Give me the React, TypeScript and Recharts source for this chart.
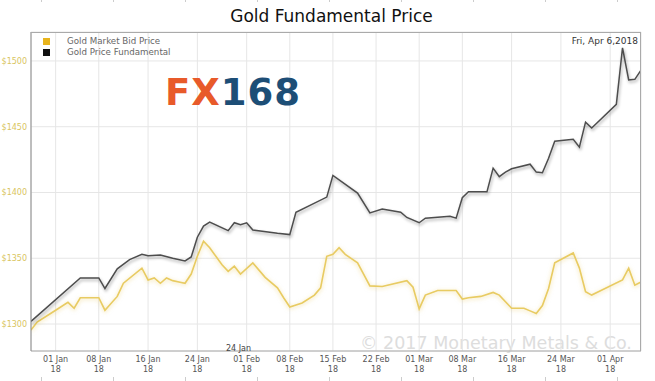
import React from "react";
import {
  LineChart,
  Line,
  XAxis,
  YAxis,
  CartesianGrid,
} from "recharts";

// days counted from 01 Jan 2018 (day 0)
const tickDays = [0, 7, 15, 23, 31, 38, 45, 52, 59, 66, 74, 82, 90];
const tickLabels = [
  "01 Jan", "08 Jan", "16 Jan", "24 Jan", "01 Feb", "08 Feb", "15 Feb",
  "22 Feb", "01 Mar", "08 Mar", "16 Mar", "24 Mar", "01 Apr",
];
const tickYear = "18";
const yTicks = [1300, 1350, 1400, 1450, 1500];

const fundamentalDays = [
  -4, 4, 7, 8, 10, 12, 14, 15, 17, 19, 21, 22, 23, 24, 25, 28, 29, 30, 31, 32,
  36, 38, 39, 44, 45, 49, 51, 53, 56, 57, 59, 60, 64, 65, 66, 67, 70, 71, 72,
  73, 74, 77, 78, 79, 80, 81, 84, 85, 86, 87, 91, 92, 93, 94, 95,
];
const fundamentalValues = [
  1302, 1335, 1335, 1327, 1342, 1349, 1353, 1352, 1352.5, 1350, 1348, 1351,
  1366, 1374.5, 1377.5, 1371, 1377, 1375.5, 1377, 1371.5, 1369, 1368, 1385,
  1396.5, 1413, 1399.5, 1384.5, 1387.5, 1385, 1381, 1377, 1380.5, 1382,
  1380.5, 1396, 1400.5, 1400.5, 1418.5, 1412, 1415.5, 1418, 1421.5, 1415.5,
  1415, 1426, 1439, 1440.5, 1434.5, 1453.5, 1449, 1467, 1510, 1485.5, 1486,
  1493,
];

const bidDays = [
  -4, -3, 0, 2, 3, 4, 7, 8, 10, 11, 14, 15, 16, 17, 18, 19, 20, 21, 22, 23, 24,
  25, 27, 28, 29, 30, 32, 34, 36, 37, 38, 40, 42, 43, 44, 45, 46, 47, 49, 51,
  53, 57, 58, 59, 60, 62, 65, 66, 67, 69, 71, 72, 74, 76, 77, 78, 79, 80, 81,
  84, 85, 86, 87, 92, 93, 94, 95,
];
const bidValues = [
  1295.5, 1301.5, 1310.5, 1316.5, 1312, 1320, 1320, 1310.5, 1321, 1331,
  1342.5, 1333.5, 1335, 1331, 1335, 1333, 1332, 1331, 1338, 1351.5, 1363,
  1358, 1345, 1340, 1344, 1338, 1346.5, 1335.5, 1327.5, 1320, 1313, 1316,
  1322, 1327.5, 1351.5, 1353, 1358, 1353, 1346.5, 1329, 1328.5, 1333, 1328,
  1311.5, 1322, 1325.5, 1325.5, 1319, 1320, 1321, 1324, 1322, 1312, 1312,
  1310, 1308, 1314, 1327, 1346.5, 1354, 1342.5, 1324.5, 1322, 1333.5, 1342.5,
  1329.5, 1332,
];

const fundamentalData = fundamentalDays.map((d, i) => ({ d, v: fundamentalValues[i] }));
const bidData = bidDays.map((d, i) => ({ d, v: bidValues[i] }));

const FONT = "'DejaVu Sans', Verdana, sans-serif";

const XTick = (props: any) => {
  const { x, y, payload } = props;
  const idx = tickDays.indexOf(payload.value);
  return (
    <text x={x} y={y} textAnchor="middle" fill="#555" fontSize={8} fontFamily={FONT}>
      <tspan x={x} dy={11}>{tickLabels[idx]}</tspan>
      <tspan x={x} dy={10}>{tickYear}</tspan>
    </text>
  );
};

const YTick = (props: any) => {
  const { x, y, payload } = props;
  return (
    <text x={x} y={y} dy={3} textAnchor="end" fill="#d9c560" fontSize={8} fontFamily={FONT}>
      {"$" + payload.value}
    </text>
  );
};

const rulerXs = [41, 113, 185, 257, 329, 401, 473, 545, 617];

export default function App() {
  return (
    <div
      style={{
        position: "absolute",
        left: 0,
        top: 0,
        width: 655,
        height: 381,
        background: "#fff",
        fontFamily: FONT,
        overflow: "hidden",
      }}
    >
      <style>{`
        .blk-line path { filter: drop-shadow(1px 2px 1.5px rgba(0,0,0,0.35)); }
        .gold-line path { filter: drop-shadow(0px 1px 2px rgba(230,195,80,0.55)); }
      `}</style>

      {/* watermark (behind the chart lines) */}
      <div
        style={{
          position: "absolute",
          left: 360,
          top: 333,
          fontSize: 17.5,
          color: "#dddddd",
          lineHeight: "20px",
          whiteSpace: "nowrap",
        }}
      >
        © 2017 Monetary Metals &amp; Co.
      </div>

      <div style={{ position: "absolute", left: 0, top: 0 }}>
        <LineChart
          width={655}
          height={381}
          margin={{ top: 32, right: 14, bottom: 0, left: 0 }}
        >
          <CartesianGrid stroke="#e6e6e6" strokeWidth={1} />
          <XAxis
            type="number"
            dataKey="d"
            domain={[-4, 95]}
            ticks={tickDays}
            allowDataOverflow
            interval={0}
            tick={<XTick />}
            tickLine={false}
            tickSize={0}
            tickMargin={0}
            height={30}
            stroke="#aaa"
          />
          <YAxis
            type="number"
            domain={[1279.5, 1522]}
            ticks={yTicks}
            allowDataOverflow
            interval={0}
            tick={<YTick />}
            tickLine={false}
            tickSize={0}
            tickMargin={4}
            width={31}
            stroke="#888"
          />
          <Line
            data={bidData}
            dataKey="v"
            className="gold-line"
            stroke="#e8cb62"
            strokeWidth={1.6}
            dot={false}
            activeDot={false}
            isAnimationActive={false}
            type="linear"
          />
          <Line
            data={fundamentalData}
            dataKey="v"
            className="blk-line"
            stroke="#4d4d4d"
            strokeWidth={1.5}
            dot={false}
            activeDot={false}
            isAnimationActive={false}
            type="linear"
          />
        </LineChart>
      </div>

      {/* plot frame */}
      <div
        style={{
          position: "absolute",
          left: 31,
          top: 32,
          width: 610,
          height: 319,
          borderTop: "1px solid #aaa",
          borderRight: "1px solid #aaa",
          boxSizing: "border-box",
          pointerEvents: "none",
        }}
      />

      {/* title */}
      <div
        style={{
          position: "absolute",
          left: 0,
          width: 655,
          top: 6,
          textAlign: "center",
          fontSize: 17,
          color: "#111",
          lineHeight: "20px",
          paddingLeft: 4,
        }}
      >
        Gold Fundamental Price
      </div>

      {/* legend */}
      <div style={{ position: "absolute", left: 43, top: 36, fontSize: 8.7, color: "#666", lineHeight: "11px" }}>
        <div style={{ display: "flex", alignItems: "center" }}>
          <span style={{ width: 7, height: 7, background: "#e8b41c", display: "inline-block", marginRight: 17 }} />
          <span>Gold Market Bid Price</span>
        </div>
        <div style={{ display: "flex", alignItems: "center" }}>
          <span style={{ width: 7, height: 7, background: "#111", display: "inline-block", marginRight: 17 }} />
          <span>Gold Price Fundamental</span>
        </div>
      </div>

      {/* date label */}
      <div style={{ position: "absolute", right: 17, top: 36, fontSize: 9, color: "#333" }}>
        Fri, Apr 6,2018
      </div>

      {/* logo */}
      <div
        style={{
          position: "absolute",
          left: 165,
          top: 72,
          fontSize: 37,
          fontWeight: 900,
          letterSpacing: 1,
          lineHeight: "42px",
        }}
      >
        <span style={{ color: "#e85a2a" }}>FX</span>
        <span style={{ color: "#1d4e76" }}>168</span>
      </div>

      {/* tooltip remnant */}
      <div style={{ position: "absolute", left: 226, top: 344, fontSize: 8, color: "#444", whiteSpace: "nowrap" }}>
        24 Jan
      </div>

      {/* ruler marks */}
      {rulerXs.map((x) => (
        <React.Fragment key={x}>
          <div style={{ position: "absolute", left: x, top: 0, width: 1, height: 2, background: "#ccc" }} />
          <div style={{ position: "absolute", left: x, top: 377, width: 1, height: 4, background: "#ccc" }} />
        </React.Fragment>
      ))}
    </div>
  );
}
